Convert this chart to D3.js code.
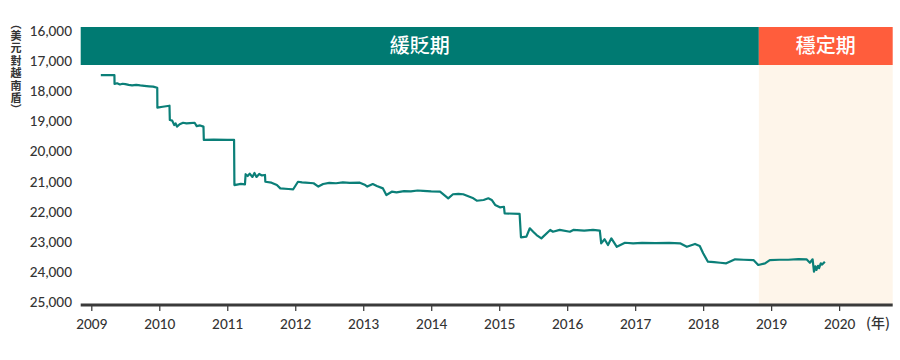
<!DOCTYPE html>
<html><head><meta charset="utf-8">
<script src="https://cdn.jsdelivr.net/npm/d3@7"></script>
<style>
html,body{margin:0;padding:0;background:#fff;}
svg{display:block;}
</style></head>
<body>
<svg id="chart" width="900" height="360"></svg>
<script>
// ---- data ----
const years = [2009.14,2009.34,2009.342,2009.38,2009.42,2009.46,2009.50,2009.55,2009.60,2009.66,2009.72,2009.78,2009.85,2009.91,2009.97,2009.972,2010.05,2010.15,2010.155,2010.19,2010.22,2010.24,2010.26,2010.30,2010.35,2010.40,2010.45,2010.52,2010.55,2010.60,2010.65,2010.655,2010.80,2011.00,2011.10,2011.105,2011.20,2011.26,2011.27,2011.30,2011.33,2011.37,2011.40,2011.43,2011.47,2011.51,2011.555,2011.56,2011.65,2011.73,2011.78,2011.90,2011.97,2012.04,2012.10,2012.15,2012.27,2012.34,2012.41,2012.50,2012.60,2012.70,2012.80,2012.95,2013.03,2013.06,2013.14,2013.20,2013.29,2013.34,2013.42,2013.49,2013.60,2013.70,2013.80,2013.88,2014.00,2014.13,2014.25,2014.32,2014.40,2014.47,2014.62,2014.67,2014.77,2014.84,2014.89,2014.94,2015.01,2015.07,2015.08,2015.30,2015.32,2015.40,2015.45,2015.50,2015.55,2015.62,2015.75,2015.79,2015.89,2016.04,2016.09,2016.25,2016.38,2016.48,2016.50,2016.55,2016.60,2016.65,2016.73,2016.85,2016.97,2017.10,2017.30,2017.50,2017.66,2017.76,2017.88,2017.95,2018.00,2018.07,2018.16,2018.25,2018.34,2018.47,2018.60,2018.74,2018.81,2018.91,2018.98,2019.12,2019.25,2019.40,2019.52,2019.57,2019.61,2019.63,2019.65,2019.665,2019.69,2019.705,2019.73,2019.75,2019.79];
const rates = [17450,17450,17740,17720,17760,17735,17750,17775,17790,17770,17790,17805,17820,17830,17870,18530,18500,18465,18940,18960,19105,19050,19160,19080,19030,19050,19040,19030,19140,19120,19160,19600,19590,19600,19600,21100,21060,21075,20740,20800,20720,20830,20700,20830,20730,20780,20765,20990,21020,21100,21210,21230,21240,20990,21010,21020,21040,21150,21065,21030,21040,21010,21030,21020,21100,21150,21065,21130,21210,21430,21320,21340,21300,21310,21280,21290,21310,21320,21540,21405,21390,21405,21540,21620,21595,21540,21595,21760,21840,21820,22040,22060,22835,22815,22535,22650,22760,22870,22590,22650,22590,22650,22590,22610,22590,22615,23035,22900,23090,22870,23150,23015,23035,23020,23030,23020,23035,23150,23055,23125,23365,23645,23660,23680,23700,23565,23580,23590,23755,23700,23590,23580,23580,23560,23565,23680,23565,23975,23800,23920,23780,23860,23700,23740,23645];
const yTicks = [16000,17000,18000,19000,20000,21000,22000,23000,24000,25000];
const xTicks = [2009,2010,2011,2012,2013,2014,2015,2016,2017,2018,2019,2020];
const periodNames = ["緩貶期","穩定期"];
const periodStart = [2008.844, 2018.819];
const periodEnd = [2018.819, 2020.788];
const yAxisTitle = "︵美元對越南盾︶";
const xAxisUnit = "(年)";

// ---- layout ----
const svg = d3.select("#chart");
const x = d3.scaleLinear().domain([2008.844, 2020.788]).range([80.7, 892.7]);
const y = d3.scaleLinear().domain([16000, 25000]).range([31.5, 302.5]);
const bannerTop = 27, bannerBottom = 65, axisY = 305;
const periodFill = ["#007A72", "#FF5D3C"];
const latin = "Lato, 'Noto Sans', sans-serif";
const cjk = "'Noto Sans CJK TC', 'Noto Sans CJK SC', sans-serif";

// stable-period background
svg.append("rect")
  .attr("x", x(periodStart[1])).attr("y", bannerBottom)
  .attr("width", x(periodEnd[1]) - x(periodStart[1]))
  .attr("height", axisY - bannerBottom)
  .attr("fill", "#FEF5EA");

// banners
periodNames.forEach((name, i) => {
  svg.append("rect")
    .attr("x", x(periodStart[i])).attr("y", bannerTop)
    .attr("width", x(periodEnd[i]) - x(periodStart[i]))
    .attr("height", bannerBottom - bannerTop)
    .attr("fill", periodFill[i]);
  svg.append("text")
    .attr("x", (x(periodStart[i]) + x(periodEnd[i])) / 2)
    .attr("y", (bannerTop + bannerBottom) / 2 + 7)
    .attr("text-anchor", "middle")
    .attr("fill", "#fff")
    .style("font-family", cjk).style("font-size", "20px").style("font-weight", 500)
    .text(name);
});

// y tick labels
svg.append("g").selectAll("text").data(yTicks).join("text")
  .attr("x", 72).attr("y", d => y(d) + 4.5)
  .attr("text-anchor", "end")
  .attr("fill", "#333")
  .style("font-family", latin).style("font-size", "13.5px").style("font-weight", 500)
  .text(d => d3.format(",")(d));

// y axis title (vertical writing)
svg.append("text")
  .attr("x", 16).attr("y", 18)
  .attr("fill", "#333")
  .style("writing-mode", "vertical-rl")
  .style("text-orientation", "upright")
  .style("letter-spacing", "1.4px")
  .style("font-family", cjk).style("font-size", "11px").style("font-weight", 700)
  .text(yAxisTitle);

// line
const pts = years.map((d, i) => [d, rates[i]]);
svg.append("path")
  .datum(pts)
  .attr("fill", "none")
  .attr("stroke", "#0B7F78")
  .attr("stroke-width", 2.2)
  .attr("stroke-linejoin", "round")
  .attr("d", d3.line().x(d => x(d[0])).y(d => y(d[1])));

// x axis
const xa = svg.append("g").attr("transform", `translate(0,${axisY})`)
  .call(d3.axisBottom(x).tickValues(xTicks).tickFormat(d3.format("d")).tickSize(6).tickPadding(8));
xa.select(".domain").remove();
xa.selectAll(".tick line").attr("stroke", "#333").attr("stroke-width", 1.2);
xa.selectAll(".tick text").attr("fill", "#333")
  .style("font-family", latin).style("font-size", "13.5px").style("font-weight", 500);
svg.append("line")
  .attr("x1", x.range()[0]).attr("x2", x.range()[1])
  .attr("y1", axisY).attr("y2", axisY)
  .attr("stroke", "#3a3a3a").attr("stroke-width", 3);

svg.append("text")
  .attr("x", 866).attr("y", axisY + 23)
  .attr("fill", "#333")
  .style("font-family", cjk).style("font-size", "14px").style("font-weight", 500)
  .text(xAxisUnit);
</script>
</body></html>
